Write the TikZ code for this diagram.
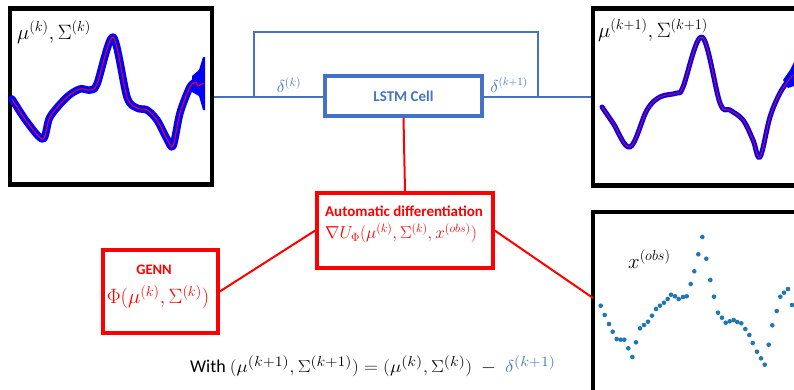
\documentclass[tikz,border=0pt]{standalone}
\usepackage[no-math]{fontspec}
\setmainfont{Carlito}
\usetikzlibrary{calc}
\definecolor{lineblue}{HTML}{4472C4}
\definecolor{dotblue}{HTML}{1F77B4}
\definecolor{bandblue}{HTML}{0000FF}
\tikzset{
  plotbox/.style={draw=black,line width=4.5pt,minimum width=#1,inner sep=0pt},
  blueline/.style={draw=lineblue,line width=2pt},
  redline/.style={draw=red,line width=2pt},
  lstmbox/.style={draw=lineblue,line width=3.5pt,minimum width=157pt,minimum height=40pt,text=lineblue,font=\bfseries\fontsize{15}{17}\selectfont},
  redbox/.style={draw=red,line width=3.5pt,text=red,align=center,inner sep=0pt},
  band/.style={draw=bandblue,line width=#1,line join=round,line cap=round},
  meanline/.style={draw=red,line width=#1,line join=round},
  obsdot/.style={fill=dotblue,draw=none}
}
\begin{document}
\begin{tikzpicture}[x=1pt,y=-1pt]
\useasboundingbox (0,0) rectangle (794,389);
% plot frames
\node[plotbox=202pt,minimum height=176pt] (pk) at (111,96.5) {};
\node[plotbox=217pt,minimum height=177pt] (pk1) at (701.5,97) {};
\node[plotbox=217pt,minimum height=188pt] (pobs) at (701.5,306) {};
% left curve
\draw[band=7.5pt] plot[smooth,tension=0.5] coordinates {(12,99) (27,122) (43,139) (50,117) (67,97) (80,89) (90,90) (97,84) (113,37) (127,97) (137,108) (147,110) (157,120) (167,139) (173,146) (180,113) (190,87) (196,82)};
\fill[bandblue] (192,76) -- (199,70) -- (203,57) -- (205,57) -- (205,110) -- (203,110) -- (199,96) -- (192,92) -- cycle;
\draw[meanline=1pt] plot[smooth,tension=0.5] coordinates {(12,99) (27,122) (43,139) (50,117) (67,97) (80,89) (90,90) (97,84) (113,37) (127,97) (137,108) (147,110) (157,120) (167,139) (173,146) (180,113) (190,87) (196,82)} -- (198,86) -- (204,83);
\node[anchor=west,inner sep=0pt,font=\fontsize{20}{22}\selectfont] (lk) at (17,32) {$\mu^{(k)},\Sigma^{(k)}$};
% right curve
\draw[band=5pt] plot[smooth,tension=0.6] coordinates {(602,107) (613,123) (630,147) (647,110) (660,97) (677,93) (683,87) (702,37) (720,103) (730,110) (743,120) (753,140) (760,157) (770,117) (780,93) (790,78)};
\fill[bandblue] (783,80) -- (790,70) -- (794,62) -- (794,86) -- (788,88) -- cycle;
\draw[meanline=0.8pt] plot[smooth,tension=0.6] coordinates {(602,107) (613,123) (630,147) (647,110) (660,97) (677,93) (683,87) (702,37) (720,103) (730,110) (743,120) (753,140) (760,157) (770,117) (780,93) (793,75)};
\node[anchor=west,inner sep=0pt,font=\fontsize{20.5}{22}\selectfont] (lk1) at (598,30) {$\mu^{(k+1)},\Sigma^{(k+1)}$};
% observations
\foreach \p in {(600.7,305.7),(604.7,315),(609,324),(612.7,331.7),(616.7,339),(620.7,339.7),(624.3,339.7),(628.3,348.3),(632.3,357),(636,342.3),(640,328.3),(644,325),(648,321.7),(652,315.7),(656,309),(660,305.7),(664,302.7),(667.7,299),(671,294.7),(675,296.3),(678.7,299),(683,297),(686.7,296.3),(690.7,284),(694.3,271.3),(698.3,254.3),(702.3,237),(706.3,258.7),(710.3,280),(714,296.7),(718,312.7),(722,317.7),(725.7,322.7),(729.7,321.3),(733.7,320),(737.3,322),(741.3,323.3),(745.3,329),(749.3,335),(752.7,343),(757,351.7),(761,358.3),(764.7,364.7),(768.7,344.7),(772.3,325.3),(776.7,311),(780.3,296.7),(784,292.7),(788,289),(792,305)}
  \fill[obsdot] \p circle (2.3pt);
\node[anchor=west,inner sep=0pt,font=\fontsize{21}{23}\selectfont] (lobs) at (628,259) {$x^{(obs)}$};
% LSTM
\node[lstmbox] (lstm) at (403.5,96) {LSTM Cell};
\coordinate (bl) at (254,97);
\coordinate (br) at (538,97);
\draw[blueline] (pk.east |- bl) -- (bl) -- (lstm.west |- bl);
\draw[blueline] (lstm.east |- br) -- (br) -- (pk1.west |- br);
\draw[blueline] (bl) -- (254,32) -- (538,32) -- (br);
\node[text=lineblue,font=\fontsize{17}{19}\selectfont,inner sep=0pt] (dk) at (289,85) {$\delta^{(k)}$};
\node[text=lineblue,font=\fontsize{16}{18}\selectfont,inner sep=0pt] (dk1) at (509,85) {$\delta^{(k+1)}$};
% red boxes
\node[redbox,minimum width=176pt,minimum height=75pt] (ad) at (405,230.5) {};
\node[text=red,font=\bfseries\fontsize{15}{17}\selectfont,inner sep=0pt] (adt) at (404,211) {Automatic differentiation};
\node[text=red,font=\fontsize{17}{19}\selectfont,inner sep=0pt] (adf) at (401,233) {$\nabla U_{\Phi}(\mu^{(k)},\Sigma^{(k)},x^{(obs)})$};
\node[redbox,minimum width=115pt,minimum height=83pt] (genn) at (160.5,291.5) {};
\node[text=red,font=\bfseries\fontsize{14.5}{16}\selectfont,inner sep=0pt] (gennt) at (154,270) {GENN};
\node[text=red,font=\fontsize{20}{22}\selectfont,inner sep=0pt] (gennf) at (158,297) {$\Phi(\mu^{(k)},\Sigma^{(k)})$};
\coordinate (obsin) at (593,298);
\draw[redline] (lstm.south) -- (ad.north);
\draw[redline] (genn.east) -- (ad.west);
\draw[redline] (ad.east) -- (obsin);
% bottom formula
\node[anchor=west,inner sep=0pt,font=\fontsize{18}{20}\selectfont] (eq) at (190,366) {With \scalebox{1.11}[1]{\fontsize{19}{21}\selectfont$(\mu^{(k+1)},\Sigma^{(k+1)})=(\mu^{(k)},\Sigma^{(k)})\ -\ \textcolor{lineblue}{\delta^{(k+1)}}$}};
\end{tikzpicture}
\end{document}
